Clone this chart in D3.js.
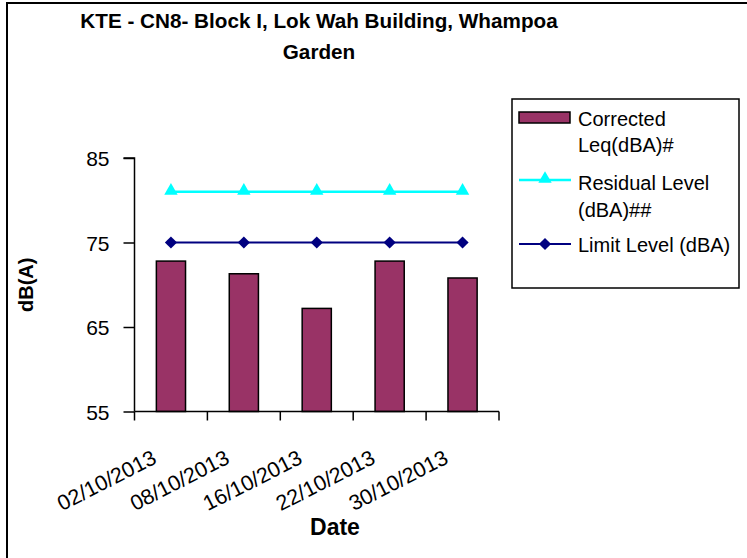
<!DOCTYPE html>
<html><head><meta charset="utf-8">
<script src="https://cdn.jsdelivr.net/npm/d3@7"></script>
<style>body{margin:0;background:#fff}svg{display:block;font-family:"Liberation Sans",Arial,sans-serif}</style>
</head><body><svg id="c" width="747" height="558"></svg>
<script>
const categories = ["02/10/2013","08/10/2013","16/10/2013","22/10/2013","30/10/2013"];
const corrected = [72.8, 71.3, 67.2, 72.8, 70.8];
const residual = [81, 81, 81, 81, 81];
const limit = [75, 75, 75, 75, 75];
const yTicks = [55, 65, 75, 85];
const legendLabels = [["Corrected","Leq(dBA)#"],["Residual Level","(dBA)##"],["Limit Level (dBA)"]];

const svg = d3.select("#c");
svg.append("rect").attr("x",7).attr("y",3).attr("width",760).attr("height",580)
  .attr("fill","#fff").attr("stroke","#000").attr("stroke-width",2);

const L = 134.5, R = 499, T = 158, B = 411.5;
const x = d3.scaleBand().domain(categories).range([L,R]).paddingInner(0.6).paddingOuter(0.3);
const xc = d3.scaleBand().domain(categories).range([L,R]).padding(0);
const y = d3.scaleLinear().domain([55,85]).range([B,T]);

// title
const title = svg.append("text").attr("text-anchor","middle").attr("font-weight","bold").attr("font-size",20.7);
title.append("tspan").attr("x",319).attr("y",28).text("KTE - CN8- Block I, Lok Wah Building, Whampoa");
title.append("tspan").attr("x",319).attr("y",59).text("Garden");

// bars
svg.append("g").selectAll("rect").data(categories).join("rect")
  .attr("x",d=>x(d)).attr("width",x.bandwidth())
  .attr("y",(d,i)=>y(corrected[i])).attr("height",(d,i)=>B-y(corrected[i]))
  .attr("fill","#993366").attr("stroke","#000").attr("stroke-width",1.5);

// y axis
const ya = svg.append("g").attr("transform",`translate(${L},0)`)
  .call(d3.axisLeft(y).tickValues(yTicks).tickSize(11).tickPadding(14).tickFormat(d3.format("d")));
ya.select(".domain").attr("stroke","#000").attr("stroke-width",1.5).attr("d",`M-11,${T}H0V${B}`);
ya.selectAll(".tick line").attr("stroke","#000").attr("stroke-width",1.5);
ya.selectAll(".tick text").attr("font-size",21).attr("fill","#000").attr("font-family","Liberation Sans, Arial, sans-serif").attr("dy","0.36em");

// x axis
const xa = svg.append("g").attr("transform",`translate(0,${B})`)
  .call(d3.axisBottom(xc).tickSize(0).tickFormat(""));
xa.select(".domain").attr("stroke","#000").attr("stroke-width",1.5).attr("d",`M${L},0H${R}`);
xa.selectAll(".tick line").remove();
const bounds = categories.map(c=>xc(c)).concat([R]);
xa.selectAll("line.bt").data(bounds).join("line").attr("class","bt")
  .attr("x1",d=>d).attr("x2",d=>d).attr("y1",0).attr("y2",9).attr("stroke","#000").attr("stroke-width",1.5);
svg.append("g").selectAll("text").data(categories).join("text")
  .attr("transform",d=>`translate(${xc(d)+xc.bandwidth()/2-13},${B+51}) rotate(-27)`)
  .attr("text-anchor","end").attr("font-size",21.5).text(d=>d);

// lines
const cx = d=>xc(d)+xc.bandwidth()/2;
const line = arr => d3.line().x((d,i)=>cx(categories[i])).y((d,i)=>y(arr[i]))(categories);
svg.append("path").attr("d",line(residual)).attr("fill","none").attr("stroke","#00FFFF").attr("stroke-width",2.5);
svg.append("path").attr("d",line(limit)).attr("fill","none").attr("stroke","#000080").attr("stroke-width",2);
const tri = d3.symbol().type(d3.symbolTriangle).size(78)();
const dia = d3.symbol().type(d3.symbolSquare).size(74)();
svg.append("g").selectAll("path").data(categories).join("path")
  .attr("d",tri).attr("transform",(d,i)=>`translate(${cx(d)},${y(residual[i])-1})`).attr("fill","#00FFFF");
svg.append("g").selectAll("path").data(categories).join("path")
  .attr("d",dia).attr("transform",(d,i)=>`translate(${cx(d)},${y(limit[i])}) rotate(45)`).attr("fill","#000080");

// axis titles
svg.append("text").attr("transform",`translate(33,${(T+B)/2}) rotate(-90)`).attr("text-anchor","middle")
  .attr("font-weight","bold").attr("font-size",20).text("dB(A)");
svg.append("text").attr("x",335).attr("y",535).attr("text-anchor","middle")
  .attr("font-weight","bold").attr("font-size",23).text("Date");

// legend
const lg = svg.append("g");
lg.append("rect").attr("x",512).attr("y",99).attr("width",227).attr("height",189)
  .attr("fill","#fff").attr("stroke","#000").attr("stroke-width",1.5);
lg.append("rect").attr("x",519).attr("y",112).attr("width",51).attr("height",11)
  .attr("fill","#993366").attr("stroke","#000").attr("stroke-width",1.5);
lg.append("line").attr("x1",519).attr("x2",571).attr("y1",180).attr("y2",180).attr("stroke","#00FFFF").attr("stroke-width",2.5);
lg.append("path").attr("d",tri).attr("transform","translate(545,179)").attr("fill","#00FFFF");
lg.append("line").attr("x1",519).attr("x2",571).attr("y1",244).attr("y2",244).attr("stroke","#000080").attr("stroke-width",2);
lg.append("path").attr("d",dia).attr("transform","translate(545,244) rotate(45)").attr("fill","#000080");
const baselines = [[125.5,152],[190,216.5],[251.5]];
legendLabels.forEach((lines,k)=>{
  lines.forEach((t,j)=>{
    lg.append("text").attr("x",578).attr("y",baselines[k][j]).attr("font-size",20).text(t);
  });
});
</script></body></html>
